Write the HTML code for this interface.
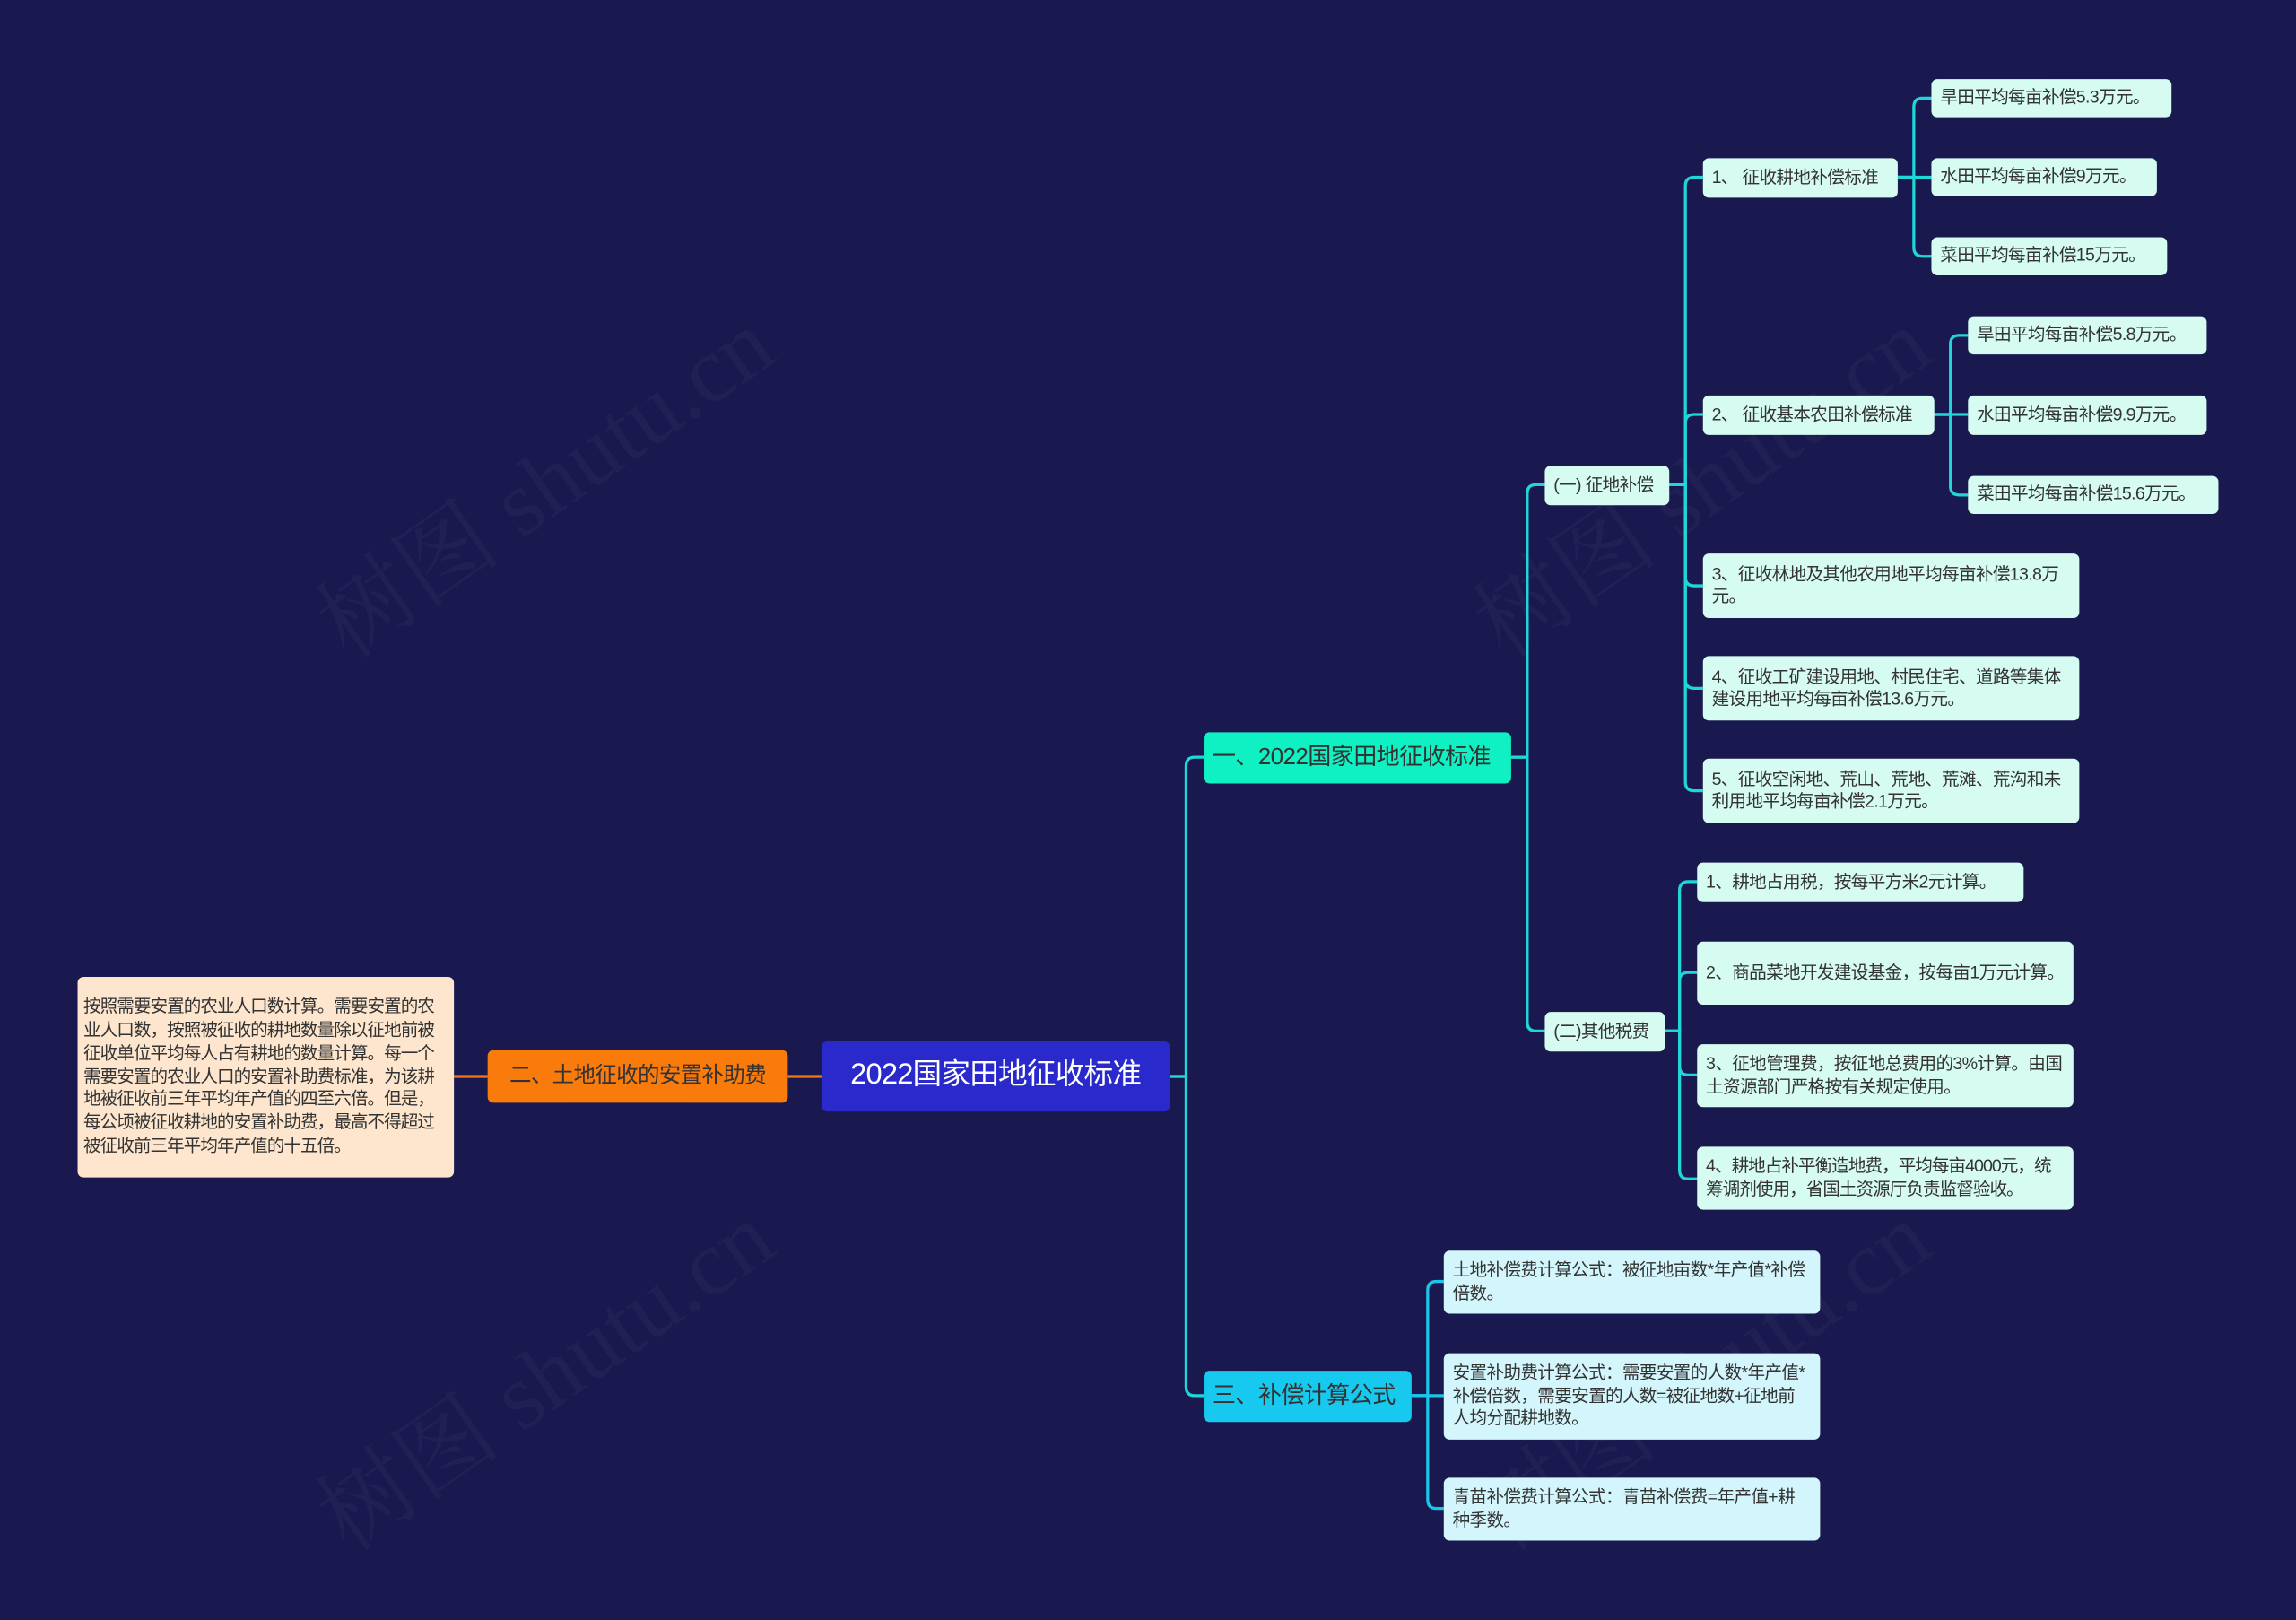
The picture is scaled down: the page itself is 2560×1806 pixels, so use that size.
<!DOCTYPE html>
<html><head><meta charset="utf-8">
<style>
html,body{margin:0;padding:0;background:#19184f;overflow:hidden}
#wrap{position:absolute;left:0;top:0;width:1568px;height:1106px;transform:scale(1.63265);transform-origin:0 0;background:#19184f;font-family:"Liberation Sans","Noto Sans CJK SC",sans-serif}
.b{position:absolute;box-sizing:border-box;border-radius:4px;color:#333;font-size:12px;line-height:15.5px;padding:0 6px;display:flex;align-items:center;background:#d2fbef;letter-spacing:-0.4px}
.s{white-space:nowrap}
.l{background:#d6fbf1}
.c{background:#d3f6fc}
svg{position:absolute;left:0;top:0}
.wm{position:absolute;color:rgba(255,255,255,0.035);font-size:64px;transform:rotate(-35deg);white-space:nowrap;font-family:"Liberation Serif","Noto Serif CJK SC",serif}
</style></head><body><div id="wrap">
<div class="wm" style="left:190px;top:280px">树图 shutu.cn</div>
<div class="wm" style="left:980px;top:280px">树图 shutu.cn</div>
<div class="wm" style="left:190px;top:890px">树图 shutu.cn</div>
<div class="wm" style="left:980px;top:890px">树图 shutu.cn</div>
<svg width="1568" height="1106" fill="none" stroke-width="2">
<g stroke="#20d6d8">
<path d="M799 735 H810 V523 Q810 517 816 517 H822"/>
<path d="M799 735 H810 V947 Q810 953 816 953 H822"/>
<path d="M1032 517 H1043 V337 Q1043 331 1049 331 H1055"/>
<path d="M1032 517 H1043 V698 Q1043 704 1049 704 H1055"/>
<path d="M1140 331 H1151 V127 Q1151 121 1157 121 H1163"/>
<path d="M1140 331 H1151 V289 Q1151 283 1157 283 H1163"/>
<path d="M1140 331 H1151 V394 Q1151 400 1157 400 H1163"/>
<path d="M1140 331 H1151 V464 Q1151 470 1157 470 H1163"/>
<path d="M1140 331 H1151 V534 Q1151 540 1157 540 H1163"/>
<path d="M1296 121 H1307 V73 Q1307 67 1313 67 H1319"/>
<path d="M1296 121 H1319"/>
<path d="M1296 121 H1307 V169 Q1307 175 1313 175 H1319"/>
<path d="M1321 283 H1332 V235 Q1332 229 1338 229 H1344"/>
<path d="M1321 283 H1344"/>
<path d="M1321 283 H1332 V332 Q1332 338 1338 338 H1344"/>
<path d="M1137 704 H1147 V608 Q1147 602 1153 602 H1159"/>
<path d="M1137 704 H1147 V670 Q1147 664 1153 664 H1159"/>
<path d="M1137 704 H1147 V728 Q1147 734 1153 734 H1159"/>
<path d="M1137 704 H1147 V799 Q1147 805 1153 805 H1159"/>
</g>
<g stroke="#1bc6ea">
<path d="M964 953 H975 V881 Q975 875 981 875 H986"/>
<path d="M964 953 H986"/>
<path d="M964 953 H975 V1024 Q975 1030 981 1030 H986"/>
</g>
<g stroke="#f07a1a">
<path d="M538 735 H790"/>
<path d="M310 735 H333"/>
</g>
</svg>
<div class="b s" style="left:561px;top:711px;width:238px;height:48px;background:#2a2acc;color:#fff;font-size:20px;justify-content:center;letter-spacing:-0.5px">2022国家田地征收标准</div>
<div class="b s" style="left:333px;top:717px;width:205px;height:36px;background:#f97b0c;font-size:15px;justify-content:center">二、土地征收的安置补助费</div>
<div class="b" style="left:53px;top:667px;width:257px;height:137px;background:#fde6cd;padding:0 4px;font-size:12px;line-height:15.8px;letter-spacing:-0.6px">按照需要安置的农业人口数计算。需要安置的农业人口数，按照被征收的耕地数量除以征地前被征收单位平均每人占有耕地的数量计算。每一个需要安置的农业人口的安置补助费标准，为该耕地被征收前三年平均年产值的四至六倍。但是，每公顷被征收耕地的安置补助费，最高不得超过被征收前三年平均年产值的十五倍。</div>
<div class="b s" style="left:822px;top:500px;width:210px;height:35px;background:#0ff0c3;font-size:16px">一、2022国家田地征收标准</div>
<div class="b s" style="left:822px;top:936px;width:142px;height:35px;background:#17c9ee;font-size:16px">三、补偿计算公式</div>
<div class="b l s" style="left:1055px;top:318px;width:85px;height:27px">(一) 征地补偿</div>
<div class="b l s" style="left:1055px;top:691px;width:82px;height:27px">(二)其他税费</div>
<div class="b l s" style="left:1163px;top:108px;width:133px;height:27px">1、 征收耕地补偿标准</div>
<div class="b l s" style="left:1163px;top:270px;width:158px;height:27px">2、 征收基本农田补偿标准</div>
<div class="b l s" style="left:1319px;top:54px;width:164px;height:26px">旱田平均每亩补偿5.3万元。</div>
<div class="b l s" style="left:1319px;top:108px;width:154px;height:26px">水田平均每亩补偿9万元。</div>
<div class="b l s" style="left:1319px;top:162px;width:161px;height:26px">菜田平均每亩补偿15万元。</div>
<div class="b l s" style="left:1344px;top:216px;width:163px;height:26px">旱田平均每亩补偿5.8万元。</div>
<div class="b l s" style="left:1344px;top:270px;width:163px;height:27px">水田平均每亩补偿9.9万元。</div>
<div class="b l s" style="left:1344px;top:325px;width:171px;height:26px">菜田平均每亩补偿15.6万元。</div>
<div class="b l" style="left:1163px;top:378px;width:257px;height:44px">3、征收林地及其他农用地平均每亩补偿13.8万元。</div>
<div class="b l" style="left:1163px;top:448px;width:257px;height:44px">4、征收工矿建设用地、村民住宅、道路等集体建设用地平均每亩补偿13.6万元。</div>
<div class="b l" style="left:1163px;top:518px;width:257px;height:44px">5、征收空闲地、荒山、荒地、荒滩、荒沟和未利用地平均每亩补偿2.1万元。</div>
<div class="b l s" style="left:1159px;top:589px;width:223px;height:27px">1、耕地占用税，按每平方米2元计算。</div>
<div class="b l" style="left:1159px;top:643px;width:257px;height:43px">2、商品菜地开发建设基金，按每亩1万元计算。</div>
<div class="b l" style="left:1159px;top:713px;width:257px;height:43px">3、征地管理费，按征地总费用的3%计算。由国土资源部门严格按有关规定使用。</div>
<div class="b l" style="left:1159px;top:783px;width:257px;height:43px;letter-spacing:-0.6px">4、耕地占补平衡造地费，平均每亩4000元，统筹调剂使用，省国土资源厅负责监督验收。</div>
<div class="b c" style="left:986px;top:854px;width:257px;height:43px">土地补偿费计算公式：被征地亩数*年产值*补偿倍数。</div>
<div class="b c" style="left:986px;top:924px;width:257px;height:59px">安置补助费计算公式：需要安置的人数*年产值*补偿倍数，需要安置的人数=被征地数+征地前人均分配耕地数。</div>
<div class="b c" style="left:986px;top:1009px;width:257px;height:43px">青苗补偿费计算公式：青苗补偿费=年产值+耕种季数。</div>
</div></body></html>
